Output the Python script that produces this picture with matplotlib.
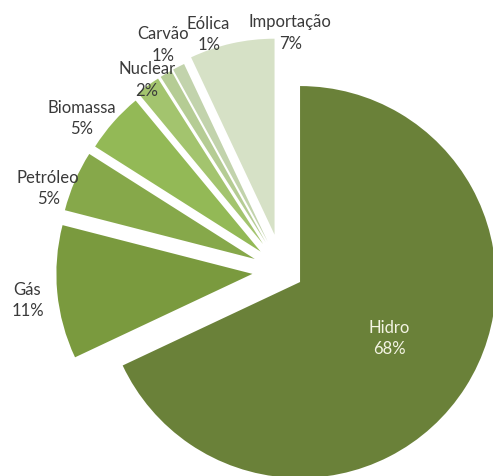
import numpy as np
import matplotlib
matplotlib.use("Agg")
import matplotlib.pyplot as plt

# fontes de energia (sentido horario a partir do topo)
labels = ["Hidro", "Gás", "Petróleo", "Biomassa", "Nuclear", "Carvão", "Eólica", "Importação"]
shares = [68, 11, 5, 5, 2, 1, 1, 7]

colors = ["#6a8139", "#7a9a3e", "#86a84a", "#93b956", "#a3c46e", "#b5cc94", "#c2d3ac", "#d6e1c6"]
explode = [0.105, 0.155, 0.155, 0.15, 0.17, 0.17, 0.17, 0.19]
# label placement: distance from centre and angular nudge (deg)
label_r = [0.64, 1.31, 1.27, 1.29, 1.20, 1.31, 1.27, 1.22]
label_da = [0.5, 1.0, 3.7, 3.9, -0.7, -2.8, -9.7, -14.4]

fig = plt.figure(figsize=(4.93, 4.77), dpi=100)
ax = fig.add_axes([0, 0, 1, 1])

wedges, _ = ax.pie(shares, explode=explode, colors=colors, startangle=90,
                   counterclock=False, radius=1.0,
                   wedgeprops=dict(linewidth=0))

for i, w in enumerate(wedges):
    ang = np.deg2rad((w.theta1 + w.theta2) / 2.0 + label_da[i])
    x = label_r[i] * np.cos(ang)
    y = label_r[i] * np.sin(ang)
    col = "#f4f4e4" if i == 0 else "#3a3a3a"
    ax.text(x, y, "{}\n{}%".format(labels[i], shares[i]), ha="center", va="center",
            fontsize=12, family=["Lato", "DejaVu Sans"], color=col, linespacing=1.4)

ax.set_xlim(-1.442, 1.073)
ax.set_ylim(-1.046, 1.388)
ax.set_aspect("auto")
ax.axis("off")

fig.savefig("out.png", dpi=100)
